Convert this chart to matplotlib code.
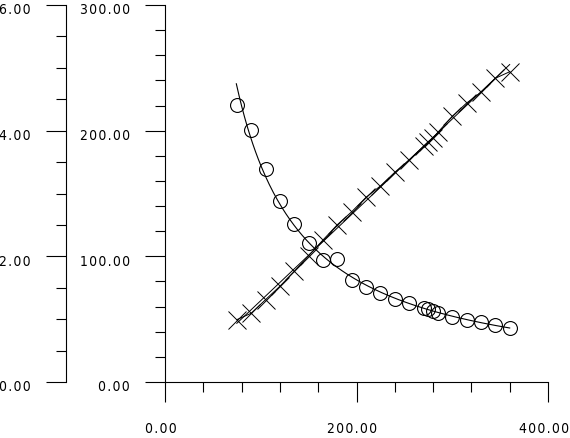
import numpy as np
import matplotlib
matplotlib.use("Agg")
import matplotlib.pyplot as plt
import matplotlib.transforms as mtransforms
from matplotlib.ticker import MultipleLocator, FixedLocator

# data
x_vals = [75, 90, 105, 120, 135, 150, 165, 180, 195, 210, 225,
          240, 255, 270, 275, 280, 285, 300, 315, 330, 345, 360]
circles = [4.41, 4.01, 3.39, 2.88, 2.51, 2.21, 1.94, 1.96, 1.62, 1.51, 1.42,
           1.32, 1.26, 1.17, 1.16, 1.13, 1.10, 1.03, 0.99, 0.95, 0.91, 0.86]
crosses = [49.6, 54.7, 65.5, 76.2, 88.1, 100.5, 113.0, 125.2, 135.5, 147.0, 156.0,
           166.9, 176.7, 187.6, 191.2, 194.2, 198.7, 211.4, 222.0, 230.5, 241.7, 246.9]

x_ticks = [0, 200, 400]
y_ticks = [0, 100, 200, 300]
y2_ticks = [0, 2, 4, 6]


def spaced(v):
    # plotter-style labels with a little gap between characters
    return "\u200a".join("%.2f" % v)


fig = plt.figure(figsize=(5.7, 4.39), dpi=100)
W, H = 570, 439
ax = fig.add_axes([165 / W, (H - 383) / H, (548 - 165) / W, (383 - 6) / H])
ax2 = ax.twinx()

for a in (ax, ax2):
    a.patch.set_visible(False)
    for s in a.spines.values():
        s.set_visible(False)

ax.spines["left"].set_visible(True)
ax.spines["bottom"].set_visible(True)
ax2.spines["left"].set_visible(True)
ax2.spines["left"].set_position(("axes", (66 - 165) / (548 - 165)))
ax2.yaxis.set_ticks_position("left")

ax.set_xlim(0, 400)
ax.set_ylim(0, 300)
ax2.set_ylim(0, 6)

ax.xaxis.set_major_locator(FixedLocator(x_ticks))
ax.xaxis.set_minor_locator(MultipleLocator(40))
ax.yaxis.set_major_locator(FixedLocator(y_ticks))
ax.yaxis.set_minor_locator(MultipleLocator(20))
ax2.yaxis.set_major_locator(FixedLocator(y2_ticks))
ax2.yaxis.set_minor_locator(MultipleLocator(0.5))

ax.set_xticklabels([spaced(v) for v in x_ticks])
ax.set_yticklabels([spaced(v) for v in y_ticks])
ax2.set_yticklabels([spaced(v) for v in y2_ticks])

for a in (ax, ax2):
    a.tick_params(which="major", length=14.4, width=0.8, direction="out", pad=11)
    a.tick_params(which="minor", length=7.2, width=0.8, direction="out")
    for lab in a.get_xticklabels() + a.get_yticklabels():
        lab.set_family(["DejaVu Sans"])
        lab.set_fontstretch("condensed")
        lab.set_fontsize(10)
ax.tick_params(axis="x", which="major", pad=12)
for s in ("left", "bottom"):
    ax.spines[s].set_linewidth(0.8)
ax2.spines["left"].set_linewidth(0.8)

# the labels in the original sit slightly low / to the left of their ticks
x_shift = mtransforms.ScaledTranslation(-4 / 100, -2 / 100, fig.dpi_scale_trans)
y_shift = mtransforms.ScaledTranslation(0, -3 / 100, fig.dpi_scale_trans)
for lab in ax.get_xticklabels():
    lab.set_transform(lab.get_transform() + x_shift)
for lab in ax.get_yticklabels() + ax2.get_yticklabels():
    lab.set_transform(lab.get_transform() + y_shift)

xs = np.array(x_vals, dtype=float)

# fitted curve for circles (power law)
b, a0 = np.polyfit(np.log(xs), np.log(circles), 1)
xc = np.linspace(74.5, xs.max(), 200)
ax2.plot(xc, np.exp(a0) * xc ** b, color="black", lw=0.8)
ax2.plot(xs, circles, "o", mfc="none", mec="black", ms=10, mew=0.8)

# crosses: connecting line + linear fit
m, c = np.polyfit(xs, crosses, 1)
ax.plot(xs, crosses, color="black", lw=0.7)
ax.plot(xs, m * xs + c, color="black", lw=0.7)
ax.plot(xs, crosses, "x", color="black", ms=13, mew=0.7)

fig.savefig("out.png", dpi=100)
